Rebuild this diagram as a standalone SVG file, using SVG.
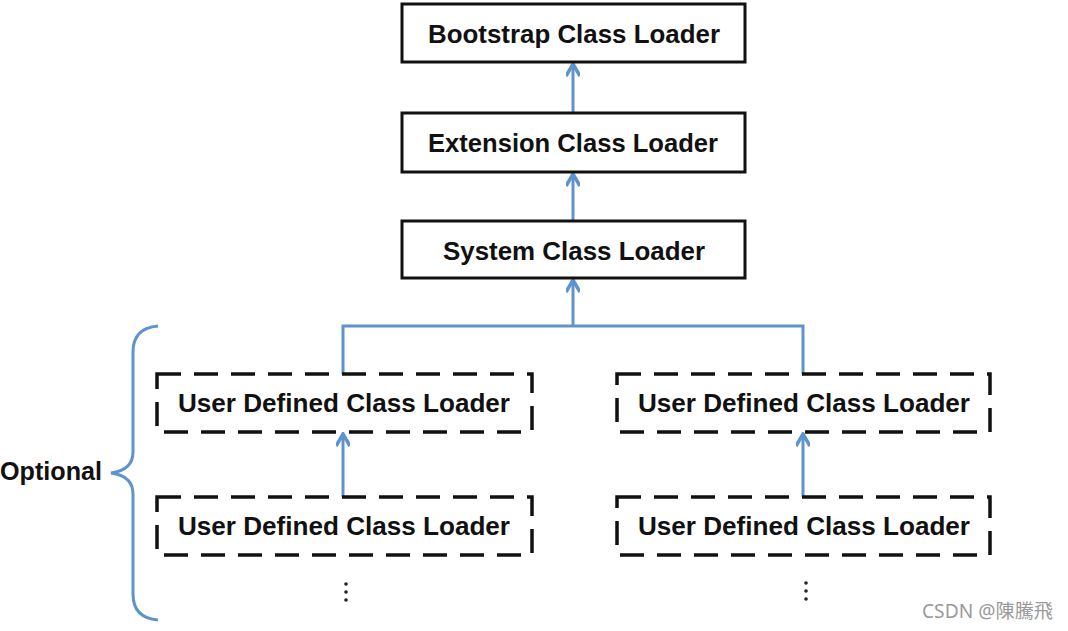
<svg xmlns="http://www.w3.org/2000/svg" width="1068" height="631" viewBox="0 0 1068 631">
<defs>
<style>
.box{fill:#fff;stroke:#111;stroke-width:3}
.dbox{fill:#fff;stroke:#111;stroke-width:3.5;stroke-dasharray:24 13}
.lbl{font-family:"Liberation Sans",Arial,sans-serif;font-weight:bold;font-size:25.5px;fill:#111;text-anchor:middle}
.conn{fill:none;stroke:#5e93cc;stroke-width:3}
.dot{fill:#222}
</style>
<marker id="ah" viewBox="0 0 20 14" refX="18" refY="7" markerWidth="20" markerHeight="14" markerUnits="userSpaceOnUse" orient="auto">
<polyline points="6,0 18,7 6,14" fill="none" stroke="#5e93cc" stroke-width="3.5"/>
</marker>
</defs>
<rect width="1068" height="631" fill="#fff"/>
<g id="connectors">
<path class="conn" d="M573,113 V64" marker-end="url(#ah)"/>
<path class="conn" d="M573,221 V174" marker-end="url(#ah)"/>
<path class="conn" d="M573,326 V280" marker-end="url(#ah)"/>
<path class="conn" d="M343,375 V326 H803 V375"/>
<path class="conn" d="M343,497 V434" marker-end="url(#ah)"/>
<path class="conn" d="M803,497 V434" marker-end="url(#ah)"/>
</g>
<g id="bootstrap">
<rect class="box" x="402" y="4" width="343" height="58"/>
<text class="lbl" x="574" y="43" textLength="292" lengthAdjust="spacingAndGlyphs">Bootstrap Class Loader</text>
</g>
<g id="extension">
<rect class="box" x="402" y="113" width="343" height="59"/>
<text class="lbl" x="573" y="152" textLength="290" lengthAdjust="spacingAndGlyphs">Extension Class Loader</text>
</g>
<g id="system">
<rect class="box" x="402" y="221" width="343" height="57"/>
<text class="lbl" x="574" y="260" textLength="262" lengthAdjust="spacingAndGlyphs">System Class Loader</text>
</g>
<g id="user-left-1">
<rect class="dbox" x="157" y="374" width="375" height="58"/>
<text class="lbl" x="344" y="412" textLength="332" lengthAdjust="spacingAndGlyphs">User Defined Class Loader</text>
</g>
<g id="user-left-2">
<rect class="dbox" x="157" y="497" width="375" height="58"/>
<text class="lbl" x="344" y="535" textLength="332" lengthAdjust="spacingAndGlyphs">User Defined Class Loader</text>
</g>
<g id="user-right-1">
<rect class="dbox" x="617" y="374" width="373" height="58"/>
<text class="lbl" x="804" y="412" textLength="332" lengthAdjust="spacingAndGlyphs">User Defined Class Loader</text>
</g>
<g id="user-right-2">
<rect class="dbox" x="617" y="497" width="373" height="58"/>
<text class="lbl" x="804" y="535" textLength="332" lengthAdjust="spacingAndGlyphs">User Defined Class Loader</text>
</g>
<g id="ellipsis-left">
<circle class="dot" cx="346" cy="584" r="1.8"/>
<circle class="dot" cx="346" cy="592" r="1.8"/>
<circle class="dot" cx="346" cy="600" r="1.8"/>
</g>
<g id="ellipsis-right">
<circle class="dot" cx="806" cy="583" r="1.8"/>
<circle class="dot" cx="806" cy="591" r="1.8"/>
<circle class="dot" cx="806" cy="599" r="1.8"/>
</g>
<g id="optional">
<path class="conn" d="M158,326 Q133,328 133,352 V452 Q133,470 111,473 Q133,476 133,494 V594 Q133,618 158,620"/>
<text class="lbl" x="51" y="480" textLength="102" lengthAdjust="spacingAndGlyphs">Optional</text>
</g>
<text x="922" y="618" font-family="'Noto Sans','Noto Sans CJK TC',sans-serif" font-size="19" fill="#9a9a9a" textLength="131" lengthAdjust="spacingAndGlyphs">CSDN @陳騰飛</text>
</svg>
